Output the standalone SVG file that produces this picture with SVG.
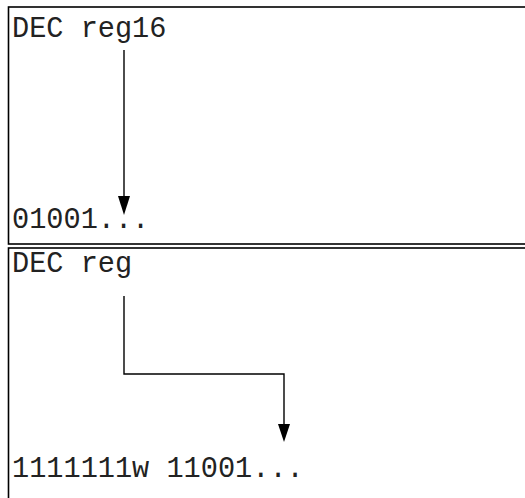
<svg xmlns="http://www.w3.org/2000/svg" width="525" height="498" viewBox="0 0 525 498">
  <style>
    .frame { fill: #ffffff; stroke: #000000; stroke-width: 1.6; }
    .code { font-family: "Liberation Mono", "Courier New", monospace; font-size: 28.6px; fill: #222222; }
    .wire { fill: none; stroke: #000000; stroke-width: 1.4; }
    .head { fill: #000000; }
  </style>
  <rect width="525" height="498" fill="#ffffff"/>

  <g id="dec-reg16">
    <rect class="frame" x="8.5" y="7" width="530" height="237"/>
    <text class="code" x="12" y="37">DEC reg16</text>
    <text class="code" x="12" y="228">01001...</text>
  </g>

  <g id="dec-reg">
    <rect class="frame" x="8.5" y="248" width="530" height="270"/>
    <text class="code" x="12" y="272">DEC reg</text>
    <text class="code" x="12" y="477">1111111w 11001...</text>
  </g>

  <g id="connectors">
    <path class="wire" d="M124 50 V198"/>
    <polygon class="head" points="118,196 130,196 124,215"/>
    <path class="wire" d="M124 296 V374 H284 V426"/>
    <polygon class="head" points="278,424 290,424 284,442"/>
  </g>
</svg>
